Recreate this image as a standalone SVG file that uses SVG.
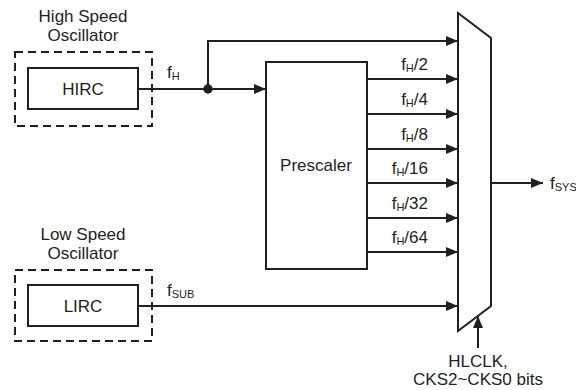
<svg xmlns="http://www.w3.org/2000/svg" width="576" height="390" viewBox="0 0 576 390">
<style>
text{font-family:"Liberation Sans",Arial,sans-serif;font-size:17px;fill:#231f20}
.sub{font-size:11px}
.box{fill:#fff;stroke:#231f20;stroke-width:2}
.dash{fill:none;stroke:#231f20;stroke-width:2;stroke-dasharray:8,5}
.ln{fill:none;stroke:#231f20;stroke-width:2}
.mid{text-anchor:middle}
.end{text-anchor:end}
</style>
<defs>
<marker id="ah" viewBox="0 0 12 10" refX="12" refY="5" markerWidth="12" markerHeight="10" markerUnits="userSpaceOnUse" orient="auto">
<path d="M0,0 L12,5 L0,10 Z" fill="#231f20"/>
</marker>
</defs>
<g id="hso">
<text class="mid" x="83" y="22">High Speed</text>
<text class="mid" x="83" y="41">Oscillator</text>
<rect class="dash" x="15" y="52" width="137" height="74"/>
</g>
<g id="hirc">
<rect class="box" x="28" y="68" width="110" height="41"/>
<text class="mid" x="83" y="95">HIRC</text>
</g>
<g id="lso">
<text class="mid" x="83" y="240">Low Speed</text>
<text class="mid" x="83" y="259">Oscillator</text>
<rect class="dash" x="15" y="270" width="137" height="71"/>
</g>
<g id="lirc">
<rect class="box" x="28" y="285" width="110" height="41"/>
<text class="mid" x="83" y="312">LIRC</text>
</g>
<g id="prescaler">
<rect class="box" x="266" y="62" width="101" height="207"/>
<text class="mid" x="316" y="171">Prescaler</text>
</g>
<g id="mux">
<polygon class="box" points="458,13 491,38 491,306 458,331"/>
</g>
<g id="connectors">
<path class="ln" d="M138,89 H266" marker-end="url(#ah)"/>
<circle cx="208" cy="89" r="4.7" fill="#231f20"/>
<path class="ln" d="M208,89 V41 H458" marker-end="url(#ah)"/>
<path class="ln" d="M367,79 H458" marker-end="url(#ah)"/>
<path class="ln" d="M367,114 H458" marker-end="url(#ah)"/>
<path class="ln" d="M367,149 H458" marker-end="url(#ah)"/>
<path class="ln" d="M367,183 H458" marker-end="url(#ah)"/>
<path class="ln" d="M367,218 H458" marker-end="url(#ah)"/>
<path class="ln" d="M367,252 H458" marker-end="url(#ah)"/>
<path class="ln" d="M138,306 H458" marker-end="url(#ah)"/>
<path class="ln" d="M491,183 H543" marker-end="url(#ah)"/>
<path class="ln" d="M478,348 V316" marker-end="url(#ah)"/>
</g>
<g id="labels">
<text x="167" y="78">f<tspan class="sub" dy="2">H</tspan></text>
<text x="167" y="296">f<tspan class="sub" dy="2">SUB</tspan></text>
<text class="end" x="428" y="70">f<tspan class="sub" dy="2">H</tspan><tspan dy="-2">/2</tspan></text>
<text class="end" x="428" y="105">f<tspan class="sub" dy="2">H</tspan><tspan dy="-2">/4</tspan></text>
<text class="end" x="428" y="140">f<tspan class="sub" dy="2">H</tspan><tspan dy="-2">/8</tspan></text>
<text class="end" x="428" y="174">f<tspan class="sub" dy="2">H</tspan><tspan dy="-2">/16</tspan></text>
<text class="end" x="428" y="209">f<tspan class="sub" dy="2">H</tspan><tspan dy="-2">/32</tspan></text>
<text class="end" x="428" y="243">f<tspan class="sub" dy="2">H</tspan><tspan dy="-2">/64</tspan></text>
<text x="550" y="189">f<tspan class="sub" dy="2">SYS</tspan></text>
<text class="mid" x="478" y="367">HLCLK,</text>
<text class="mid" x="478" y="385">CKS2~CKS0 bits</text>
</g>
</svg>
